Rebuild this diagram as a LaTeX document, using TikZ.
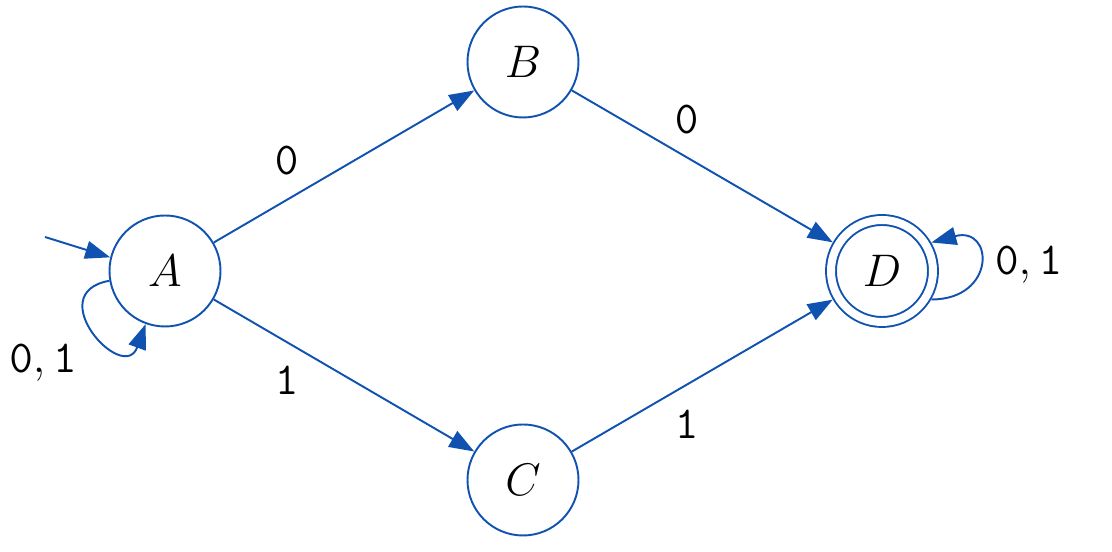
\RequirePackage{fix-cm}
\documentclass[tikz,border=0pt]{standalone}
\usetikzlibrary{arrows.meta}
\definecolor{fsablue}{RGB}{16,82,176}
\begin{document}
\begin{tikzpicture}[
  font=\fontsize{26}{30}\selectfont,
  state/.style={circle, draw=fsablue, line width=1.1pt, minimum size=2.22cm, inner sep=0pt},
  accept/.style={state, double, double distance=0.16cm, minimum size=2.04cm, outer sep=0.12cm},
  trans/.style={draw=fsablue, line width=1.1pt, -{Triangle[length=0.5cm,width=0.36cm]}}
]
  \useasboundingbox (0,0) rectangle (22.24,11.04);
  % states
  \node[state] (A) at (3.30,5.62) {$A$};
  \node[state] (B) at (10.46,9.80) {$B$};
  \node[state] (C) at (10.46,1.44) {$C$};
  \node[accept] (D) at (17.64,5.62) {$D$};
  \coordinate (init) at (0.90,6.30);
  % transitions
  \draw[trans] (init) -- (A.166);
  \draw[trans] (A) -- node[pos=.28, yshift=.78cm] {$\mathtt{0}$} (B);
  \draw[trans] (A) -- node[pos=.28, yshift=-.78cm] {$\mathtt{1}$} (C);
  \draw[trans] (B) -- node[pos=.44, yshift=.76cm] {$\mathtt{0}$} (D);
  \draw[trans] (C) -- node[pos=.44, yshift=-.80cm] {$\mathtt{1}$} (D);
  \draw[trans] (A.190) .. controls +(190:1.4) and +(250:1.3) .. node[pos=.5, below left, xshift=-.2cm, yshift=-.15cm] {$\mathtt{0,1}$} (A.250);
  \draw[trans] (D.-30) .. controls +(0:1.3) and +(15:1.3) .. node[pos=.5, right, xshift=.18cm] {$\mathtt{0,1}$} (D.30);
\end{tikzpicture}
\end{document}
